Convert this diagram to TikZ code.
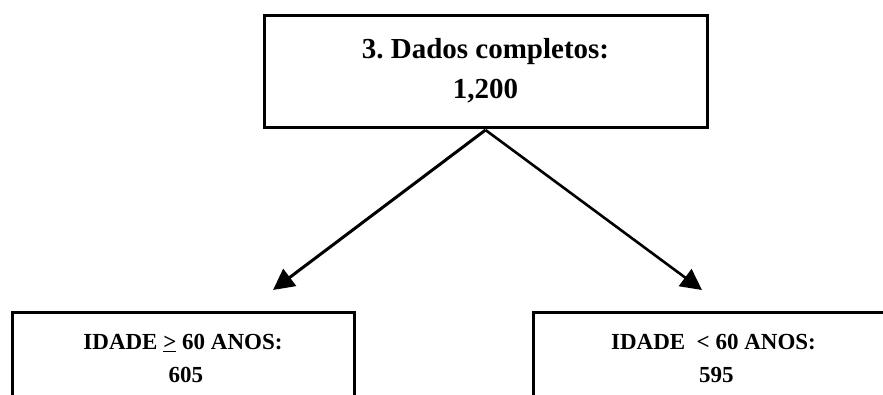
\documentclass[tikz,border=0pt]{standalone}
\usepackage{fontspec}
\setmainfont{Liberation Serif}
\frenchspacing
\usetikzlibrary{arrows.meta}

\tikzset{
    caixa/.style={draw, line width=3pt, align=center, inner sep=0pt, font=\bfseries},
    seta/.style={line width=3pt, -{Triangle[length=21pt,width=21pt]}}
}

\begin{document}
\begin{tikzpicture}[x=1pt, y=-1pt]
        \useasboundingbox (0,0) rectangle (883,394);
        \node [caixa, minimum width=443pt, minimum height=112pt, font=\fontsize{29}{40}\selectfont\bfseries] (total) at (485.5,71) {3. Dados completos:\\1,200};
        \node [caixa, anchor=north, minimum width=342pt, minimum height=92pt, font=\fontsize{23}{33}\selectfont\bfseries] (maior) at (183,311) {IDADE \underline{>} 60 ANOS:\\ \ 605};
        \node [caixa, anchor=north west, minimum width=360pt, minimum height=92pt, font=\fontsize{23}{33}\selectfont\bfseries] (menor) at (532,311) {IDADE \ < 60 ANOS:\\ \ 595};
        \coordinate (topo) at (485.5,130);
        \coordinate (pontaE) at (273,290);
        \coordinate (pontaD) at (702,290);
        \draw [seta] (topo) -- (pontaE);
        \draw [seta, line width=2.6pt] (topo) -- (pontaD);
    \end{tikzpicture}
\end{document}
